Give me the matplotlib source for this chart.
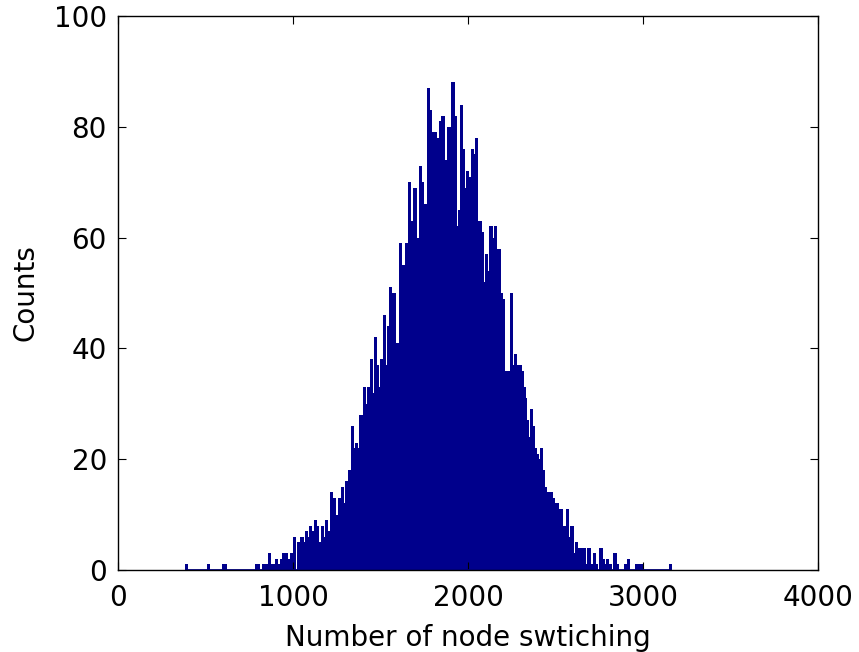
import numpy as np
import matplotlib
matplotlib.use("Agg")
import matplotlib.pyplot as plt

# histogram: bar centre (node switching) and count
switching = [389, 516, 602, 615, 790, 805, 832, 847, 865, 880, 893, 906, 920, 932, 945, 964, 977,
             991, 1010, 1029, 1040, 1051, 1063, 1075, 1088, 1100, 1112, 1126, 1140, 1151, 1166, 1178,
             1190, 1207, 1221, 1235, 1250, 1266, 1283, 1294, 1307, 1321,
             1340, 1352, 1364, 1375, 1388, 1398, 1408, 1418, 1430, 1440, 1449, 1459, 1470, 1482,
             1493, 1504, 1513, 1525, 1536, 1546, 1555, 1568, 1582, 1596, 1608,
             1616, 1629, 1639, 1648, 1656, 1664, 1676, 1684, 1697, 1708, 1716, 1728, 1739, 1749,
             1758, 1773, 1785, 1797, 1806, 1815, 1830,
             1845, 1857, 1870, 1878, 1891, 1903, 1914, 1930, 1940, 1952, 1964, 1975, 1987, 1998,
             2010, 2018, 2025, 2034, 2048, 2059,
             2072, 2082, 2095, 2105, 2116, 2131, 2141, 2156, 2170, 2181, 2192, 2204, 2215, 2227,
             2238, 2250, 2263, 2272, 2288,
             2301, 2310, 2320, 2329, 2341, 2352, 2364, 2375, 2387, 2398, 2409, 2421, 2432, 2444,
             2455, 2467, 2478, 2489, 2501, 2512, 2522,
             2531, 2541, 2550, 2559, 2568, 2581, 2594, 2608, 2619, 2630, 2640, 2648, 2655, 2665,
             2676, 2691, 2705, 2722, 2735, 2760, 2771, 2783, 2798, 2815, 2840, 2851,
             2899, 2916, 2962, 2977, 2994, 3156]
counts = [1, 1, 1, 1, 1, 1, 1, 1, 3, 1, 1, 2, 1, 2, 3, 3, 2,
          3, 6, 5, 4, 6, 5, 7, 6, 8, 7, 9, 8, 5, 8, 6,
          9, 7, 14, 13, 10, 13, 15, 12, 16, 18,
          26, 22, 23, 22, 28, 26, 33, 30, 33, 29, 38, 32, 42, 37,
          33, 38, 31, 46, 37, 44, 51, 50, 50, 41, 41,
          59, 55, 53, 59, 54, 70, 62, 63, 69, 57, 60, 73, 70, 65,
          66, 87, 83, 79, 61, 79, 78,
          81, 82, 74, 63, 80, 78, 88, 82, 62, 65, 84, 76, 69, 72,
          71, 68, 76, 75, 78, 63,
          63, 61, 52, 57, 54, 62, 60, 62, 58, 58, 50, 49, 36, 36,
          36, 50, 37, 39, 37,
          37, 36, 33, 31, 27, 24, 29, 26, 22, 21, 20, 22, 18, 15,
          14, 14, 14, 13, 12, 12, 11,
          11, 6, 8, 7, 11, 6, 8, 3, 5, 4, 3, 4, 3, 4,
          1, 4, 1, 3, 1, 4, 2, 1, 2, 1, 3, 1,
          1, 2, 1, 1, 1, 1]

plt.rcParams['font.family'] = 'DejaVu Sans'
plt.rcParams['font.size'] = 20

fig = plt.figure(figsize=(8.59, 6.52), dpi=100)
ax = fig.add_axes([0.1374, 0.1258, 0.8149, 0.8497])

bar_color = "#00008C"
ax.bar(switching, counts, width=18, color=bar_color, linewidth=0)
# zero bins show up as a line along the bottom
ax.hlines(0, min(switching), max(switching), color=bar_color, linewidth=2)

ax.set_xlim(0, 4000)
ax.set_ylim(0, 100)
ax.set_xticks(np.arange(0, 4001, 1000))
ax.set_yticks(np.arange(0, 101, 20))
ax.tick_params(direction='in', top=True, right=True, length=6, width=0.8)
ax.tick_params(axis='x', pad=10)
ax.tick_params(axis='y', pad=8)
for s in ax.spines.values():
    s.set_linewidth(1.0)

ax.set_xlabel("Number of node swtiching", labelpad=9)
ax.set_ylabel("Counts", labelpad=10)

fig.savefig("out.png", dpi=100)
